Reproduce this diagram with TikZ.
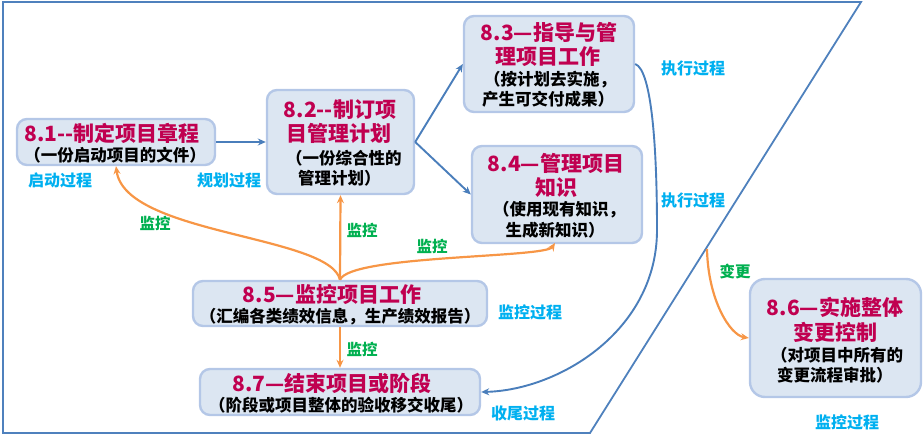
\documentclass[tikz,border=0pt]{standalone}
\usepackage{fontspec}
\setmainfont{Noto Sans CJK SC}
\usetikzlibrary{arrows.meta}
\definecolor{ttlc}{RGB}{192,0,80}
\definecolor{labc}{RGB}{0,176,240}
\definecolor{monc}{RGB}{0,176,80}
\definecolor{orc}{RGB}{247,150,70}
\definecolor{linec}{RGB}{74,126,187}
\definecolor{framec}{RGB}{79,129,189}
\definecolor{boxf}{RGB}{220,230,242}
\definecolor{boxb}{RGB}{180,199,231}
\begin{document}
\begin{tikzpicture}[x=1pt,y=-1pt,
  box/.style={draw=boxb, line width=2.4pt, fill=boxf, rounded corners=10pt, inner sep=0pt, outer sep=1.2pt},
  ttl/.style={text=ttlc, font=\bfseries\fontsize{21}{25}\selectfont, inner sep=0pt},
  sub/.style={text=black, font=\bfseries\fontsize{16.5}{19}\selectfont, inner sep=0pt},
  lab/.style={text=labc, font=\bfseries\fontsize{16}{19}\selectfont, inner sep=0pt},
  mon/.style={text=monc, font=\bfseries\fontsize{15.5}{18}\selectfont, inner sep=0pt},
  barrow/.style={draw=linec, line width=1.9pt, -{Stealth[length=8pt,width=7pt]}},
  oarrow/.style={draw=orc, line width=2.2pt, -{Stealth[length=8pt,width=7pt]}},
  framel/.style={draw=framec, line width=1.8pt}
]
\useasboundingbox (0,0) rectangle (923,438);
% frame
\draw[framel] (3,2) -- (861,2) -- (590,433) -- (3,433) -- cycle;

% boxes
\node[box, minimum width=198pt, minimum height=46pt] (b81) at (116,142) {};
\node[box, minimum width=147pt, minimum height=104pt] (b82) at (340.5,142) {};
\node[box, minimum width=170pt, minimum height=96pt] (b83) at (549,64) {};
\node[box, minimum width=170pt, minimum height=97pt] (b84) at (557,194.5) {};
\node[box, minimum width=294pt, minimum height=45pt] (b85) at (340,303.5) {};
\node[box, minimum width=280pt, minimum height=46pt] (b87) at (340,392) {};
\node[box, rounded corners=15pt, minimum width=171pt, minimum height=118pt] (b86) at (835.5,338) {};

% texts in boxes
\node[ttl] (t81) at (112,133) {8.1-{}-制定项目章程};
\node[sub] (s81) at (115,155) {（一份启动项目的文件）};

\node[ttl] (t82a) at (340,110) {8.2-{}-制订项};
\node[ttl] (t82b) at (339,133) {目管理计划};
\node[sub, anchor=west] (s82a) at (286,158) {（一份综合性的};
\node[sub, anchor=west] (s82b) at (298,178) {管理计划）};

\node[ttl] (t83a) at (549,32) {8.3—指导与管};
\node[ttl] (t83b) at (548,57) {理项目工作};
\node[sub] (s83a) at (550,80) {（按计划去实施，};
\node[sub] (s83b) at (548,99) {产生可交付成果）};

\node[ttl] (t84a) at (556,163) {8.4—管理项目};
\node[ttl] (t84b) at (556,188) {知识};
\node[sub] (s84a) at (559,210) {（使用现有知识，};
\node[sub] (s84b) at (555,230) {生成新知识）};

\node[ttl] (t85) at (332,295) {8.5—监控项目工作};
\node[sub] (s85) at (340,317) {（汇编各类绩效信息，生产绩效报告）};

\node[ttl] (t87) at (332,383) {8.7—结束项目或阶段};
\node[sub] (s87) at (341,405) {（阶段或项目整体的验收移交收尾）};

\node[ttl] (t86a) at (835,307) {8.6—实施整体};
\node[ttl] (t86b) at (835,332) {变更控制};
\node[sub, anchor=west] (s86a) at (771,355) {（对项目中所有的};
\node[sub, anchor=west] (s86b) at (777,375) {变更流程审批）};

% process labels
\node[lab] (l1) at (60,180) {启动过程};
\node[lab] (l2) at (229,180) {规划过程};
\node[lab] (l3) at (693,68) {执行过程};
\node[lab] (l4) at (693,200) {执行过程};
\node[lab] (l5) at (530,312) {监控过程};
\node[lab] (l6) at (523,413) {收尾过程};
\node[lab] (l7) at (847,422) {监控过程};

% monitoring labels
\node[mon] (m1) at (155,223) {监控};
\node[mon] (m2) at (362,230) {监控};
\node[mon] (m3) at (432,246) {监控};
\node[mon] (m4) at (362,349) {监控};
\node[mon] (m5) at (735,272) {变更};

% blue connectors
\draw[barrow] (b81.east) -- (b82.west);
\draw[barrow] (b82.east) -- (b83.west);
\draw[barrow] (b82.east) -- (b84.west);
\coordinate (c1) at (657,230);
\draw[barrow] (b83.east) .. controls (652,70) and (657,150) .. (c1)
  .. controls (657,330) and (560,390) .. (b87.east);

% orange connectors
\draw[oarrow] (b85.north) -- (b82.south);
\draw[oarrow] (b85.north) .. controls (330,235) and (125,235) .. (b81.south);
\coordinate (c84) at (555,243);
\draw[oarrow] (b85.north) .. controls (350,255) and (545,258) .. (c84);
\draw[oarrow] (b85.south) -- (b87.north);
\coordinate (cb) at (707,249);
\draw[oarrow] (cb) .. controls (708,300) and (730,335) .. (b86.west);
\end{tikzpicture}
\end{document}
